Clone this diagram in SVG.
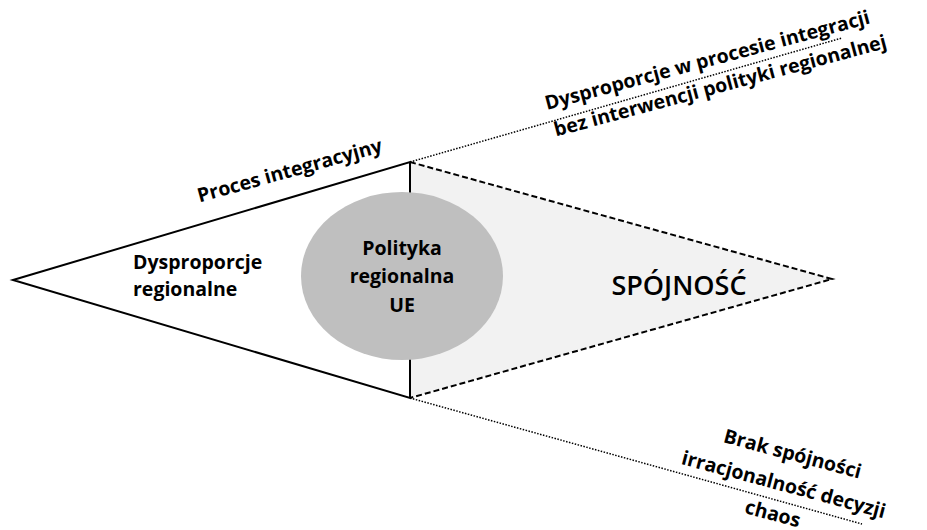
<svg xmlns="http://www.w3.org/2000/svg" width="927" height="530" viewBox="0 0 927 530">
<style>
.t{font-family:"Open Sans","Noto Sans","Liberation Sans",sans-serif;font-weight:700;fill:#000}
.c{text-anchor:middle}
.dot{stroke:#000;stroke-width:1.5;stroke-dasharray:1.5 1.5;fill:none}
.big{font-weight:600}
</style>
<rect width="927" height="530" fill="#fff"/>
<g id="spojnosc">
<polygon points="410,162 832,279 410,398" fill="#f2f2f2" stroke="none"/>
<polyline points="410,162 832,279 410,398" fill="none" stroke="#000" stroke-width="2" stroke-dasharray="6 3"/>
<text class="t c big" x="679" y="295" font-size="27">SPÓJNOŚĆ</text>
</g>
<g id="dysproporcje">
<polygon points="13,280 410,162 410,398" fill="#fff" stroke="#000" stroke-width="2" stroke-linejoin="miter"/>
<text class="t" x="133" y="269" font-size="19.5">Dysproporcje</text>
<text class="t" x="133" y="296" font-size="19.5">regionalne</text>
</g>
<g id="polityka">
<ellipse cx="402" cy="276" rx="101" ry="84" fill="#bfbfbf"/>
<text class="t c" x="402" y="255" font-size="19.5">Polityka</text>
<text class="t c" x="402" y="283" font-size="19.5">regionalna</text>
<text class="t c" x="402" y="312" font-size="19.5">UE</text>
</g>
<g id="proces" transform="translate(291.5,177) rotate(-15.5)">
<text class="t c" x="0" y="0" font-size="19.5">Proces integracyjny</text>
</g>
<g id="connectors">
<line class="dot" x1="410" y1="162" x2="842" y2="38"/>
<line class="dot" x1="410" y1="398" x2="862" y2="524"/>
</g>
<g id="bez-interwencji" transform="translate(715,79.5) rotate(-15)">
<text class="t c" x="-2.4" y="-14" font-size="19.5">Dysproporcje w procesie integracji</text>
<text class="t c" x="3.4" y="14" font-size="19.5">bez interwencji polityki regionalnej</text>
</g>
<g id="brak-spojnosci" transform="translate(782,491) rotate(15)">
<text class="t c" x="0.7" y="-32" font-size="19.5">Brak spójności</text>
<text class="t c" x="0" y="0" font-size="19.5">irracjonalność decyzji</text>
<text class="t c" x="-3" y="31" font-size="19.5">chaos</text>
</g>
</svg>
